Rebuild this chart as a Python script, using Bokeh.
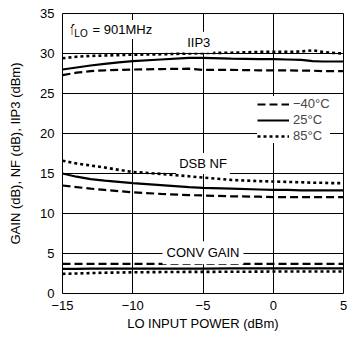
from bokeh.plotting import figure
from bokeh.models import Label, Legend, LegendItem, FixedTicker
from bokeh.embed import file_html
from bokeh.resources import INLINE

# LO input power sweep (dBm)
lo_power = [-15, -14, -13, -12, -11, -10, -8, -6, -5, -3, -1, 0, 1, 2, 2.8, 3.5, 4, 5]

# IIP3 (dBm) versus LO power, three temperatures
iip3_m40 = [27.3, 27.6, 27.8, 27.9, 27.95, 28.0, 28.05, 28.1, 27.95, 27.95, 27.9, 27.9, 27.9, 27.85, 27.85, 27.8, 27.8, 27.8]
iip3_25 = [28.0, 28.25, 28.5, 28.7, 28.9, 29.05, 29.25, 29.45, 29.45, 29.35, 29.3, 29.3, 29.25, 29.2, 29.05, 29.0, 29.0, 29.0]
iip3_85 = [29.4, 29.6, 29.7, 29.75, 29.8, 29.85, 29.9, 30.0, 30.05, 30.1, 30.2, 30.2, 30.2, 30.25, 30.4, 30.2, 30.1, 30.0]

# DSB noise figure (dB)
nf_m40 = [13.5, 13.3, 13.1, 12.95, 12.8, 12.65, 12.45, 12.3, 12.25, 12.15, 12.1, 12.05, 12.05, 12.05, 12.05, 12.05, 12.05, 12.05]
nf_25 = [15.0, 14.6, 14.3, 14.1, 13.95, 13.8, 13.55, 13.3, 13.2, 13.1, 13.0, 12.95, 12.95, 12.9, 12.9, 12.9, 12.9, 12.9]
nf_85 = [16.6, 16.25, 16.0, 15.75, 15.45, 15.2, 14.95, 14.65, 14.5, 14.2, 14.05, 14.0, 13.95, 13.9, 13.85, 13.85, 13.8, 13.8]

# Conversion gain (dB)
gain_m40 = [3.7] * 18
gain_25 = [3.08, 3.08, 3.1, 3.1, 3.1, 3.1, 3.12, 3.12, 3.12, 3.13, 3.14, 3.15, 3.15, 3.15, 3.15, 3.15, 3.15, 3.15]
gain_85 = [2.45, 2.5, 2.55, 2.6, 2.62, 2.65, 2.68, 2.7, 2.7, 2.72, 2.73, 2.75, 2.75, 2.75, 2.75, 2.75, 2.75, 2.75]

x_ticks = [-15, -10, -5, 0, 5]
x_tick_labels = ["\u221215", "\u221210", "\u22125", "0", "5"]
y_ticks = [0, 5, 10, 15, 20, 25, 30, 35]

FONT = "Liberation Sans"

p = figure(width=347, height=337, x_range=(-15, 5), y_range=(0, 35),
           output_backend="svg", toolbar_location=None,
           min_border_left=62, min_border_right=4, min_border_top=13, min_border_bottom=44)
p.background_fill_color = "white"
p.border_fill_color = "white"
p.outline_line_color = "black"
p.outline_line_width = 1

p.xaxis.ticker = FixedTicker(ticks=x_ticks)
p.xaxis.major_label_overrides = {t: l for t, l in zip(x_ticks, x_tick_labels)}
p.yaxis.ticker = FixedTicker(ticks=y_ticks)
for ax in (p.xaxis, p.yaxis):
    ax.axis_line_color = None
    ax.major_tick_line_color = None
    ax.minor_tick_line_color = None
    ax.major_tick_out = 0
    ax.major_tick_in = 0
    ax.minor_tick_out = 0
    ax.minor_tick_in = 0
    ax.major_label_text_font = FONT
    ax.major_label_text_font_size = "13px"
    ax.major_label_text_color = "black"
    ax.axis_label_text_font = FONT
    ax.axis_label_text_font_size = "13px"
    ax.axis_label_text_font_style = "normal"
    ax.axis_label_text_color = "black"
p.xaxis.major_label_standoff = 7
p.yaxis.major_label_standoff = 8
p.xaxis.axis_label = "LO INPUT POWER (dBm)"
p.yaxis.axis_label = "GAIN (dB), NF (dB), IIP3 (dBm)"
p.xaxis.axis_label_standoff = 3
p.yaxis.axis_label_standoff = 14

p.grid.grid_line_color = "black"
p.grid.grid_line_width = 1
p.grid.grid_line_alpha = 1
p.xgrid.ticker = FixedTicker(ticks=[-10, -5, 0])
p.ygrid.ticker = FixedTicker(ticks=[5, 10, 15, 20, 25, 30])

DASH = "8 4"
DOT = "3 3"
LW = 2.2

r_m40 = []
r_25 = []
r_85 = []
for m40, t25, t85 in ((iip3_m40, iip3_25, iip3_85), (nf_m40, nf_25, nf_85), (gain_m40, gain_25, gain_85)):
    r_m40.append(p.line(lo_power, m40, line_color="black", line_width=LW, line_dash=DASH))
    r_25.append(p.line(lo_power, t25, line_color="black", line_width=LW))
    r_85.append(p.line(lo_power, t85, line_color="black", line_width=2.6, line_dash=DOT))

legend = Legend(items=[
    LegendItem(label="\u221240\u00b0C", renderers=[r_m40[0]]),
    LegendItem(label="25\u00b0C", renderers=[r_25[0]]),
    LegendItem(label="85\u00b0C", renderers=[r_85[0]]),
], location=(195, 150))
legend.background_fill_color = "white"
legend.background_fill_alpha = 1
legend.border_line_color = None
legend.label_text_font = FONT
legend.label_text_font_size = "13px"
legend.glyph_width = 32
legend.glyph_height = 14
legend.label_height = 14
legend.label_standoff = 4
legend.spacing = 1
legend.padding = 5
legend.margin = 0
p.add_layout(legend, "center")


def note(x, y, text, size="13px", baseline="middle", align="center", pad=3):
    lab = Label(x=x, y=y, text=text, text_font=FONT, text_font_size=size,
                text_baseline=baseline, text_align=align, text_color="black",
                background_fill_color="white", padding=pad)
    p.add_layout(lab)


note(-14.57, 33.0, "f", size="14px", baseline="alphabetic", align="left", pad=2)
note(-14.3, 32.45, "LO", size="10px", baseline="alphabetic", align="left", pad=2)
note(-13.0, 33.0, "= 901MHz", baseline="alphabetic", align="left", pad=2)
note(-5.3, 31.4, "IIP3")
note(-5.0, 16.25, "DSB NF")
note(-5.0, 5.1, "CONV GAIN", pad=4)

open("out.html", "w").write(file_html(p, INLINE))
